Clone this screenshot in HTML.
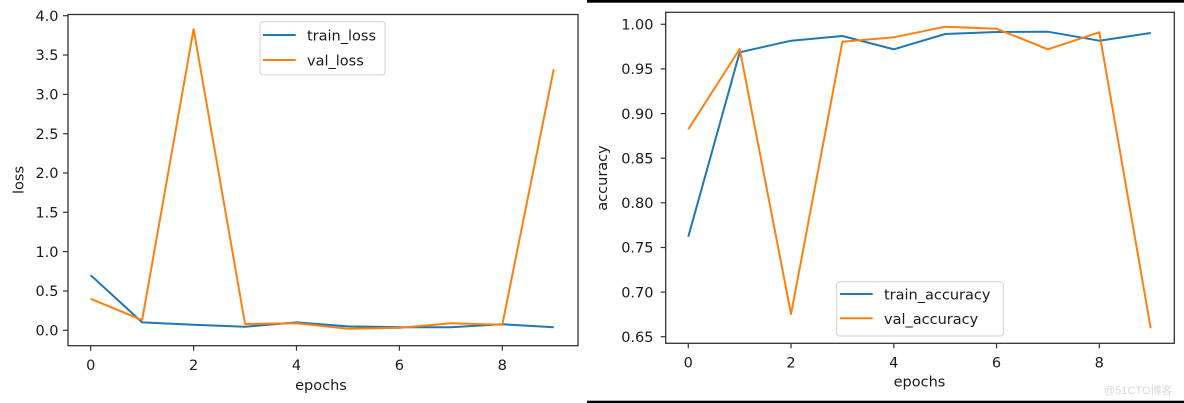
<!DOCTYPE html>
<html>
<head>
<meta charset="utf-8">
<style>
  html, body { margin: 0; padding: 0; background: #fff; }
  svg { display: block; }
  text { font-family: "DejaVu Sans", "Liberation Sans", sans-serif; fill: #1a1a1a; }
</style>
</head>
<body>
<svg width="1184" height="403" viewBox="0 0 1184 403" xmlns="http://www.w3.org/2000/svg">
  <rect x="0" y="0" width="1184" height="403" fill="#fff"/>
  <!-- black bars right panel -->
  <rect x="587" y="0" width="597" height="2.7" fill="#000"/>
  <rect x="587" y="400.7" width="597" height="2.3" fill="#000"/>

  <!-- ================= LEFT PLOT ================= -->
  <g>
    <!-- series -->
    <polyline fill="none" stroke="#1f77b4" stroke-width="2" stroke-linejoin="round"
      points="90.7,275.2 142.15,322.4 193.6,324.8 245.05,326.7 296.5,322.4 347.95,326.4 399.4,327.2 450.85,327.2 502.3,324.3 553.75,327.2"/>
    <polyline fill="none" stroke="#ff7f0e" stroke-width="2" stroke-linejoin="round"
      points="90.7,298.8 142.15,320.1 193.6,29.1 245.05,324.0 296.5,323.2 347.95,328.7 399.4,327.9 450.85,323.2 502.3,324.8 553.75,69.2"/>

    <!-- frame -->
    <rect x="68" y="14.5" width="510" height="331.2" fill="none" stroke="#333" stroke-width="1.3"/>

    <!-- y ticks -->
    <g stroke="#333" stroke-width="1.2">
      <line x1="63" y1="330.3" x2="68" y2="330.3"/>
      <line x1="63" y1="291" x2="68" y2="291"/>
      <line x1="63" y1="251.6" x2="68" y2="251.6"/>
      <line x1="63" y1="212.3" x2="68" y2="212.3"/>
      <line x1="63" y1="173" x2="68" y2="173"/>
      <line x1="63" y1="133.7" x2="68" y2="133.7"/>
      <line x1="63" y1="94.4" x2="68" y2="94.4"/>
      <line x1="63" y1="55" x2="68" y2="55"/>
      <line x1="63" y1="15.7" x2="68" y2="15.7"/>
    </g>
    <g font-size="14.5" text-anchor="end">
      <text x="58.5" y="335.5">0.0</text>
      <text x="58.5" y="296.2">0.5</text>
      <text x="58.5" y="256.8">1.0</text>
      <text x="58.5" y="217.5">1.5</text>
      <text x="58.5" y="178.2">2.0</text>
      <text x="58.5" y="138.9">2.5</text>
      <text x="58.5" y="99.6">3.0</text>
      <text x="58.5" y="60.2">3.5</text>
      <text x="58.5" y="20.9">4.0</text>
    </g>
    <!-- x ticks -->
    <g stroke="#333" stroke-width="1.2">
      <line x1="90.7" y1="345.7" x2="90.7" y2="350.7"/>
      <line x1="193.6" y1="345.7" x2="193.6" y2="350.7"/>
      <line x1="296.5" y1="345.7" x2="296.5" y2="350.7"/>
      <line x1="399.4" y1="345.7" x2="399.4" y2="350.7"/>
      <line x1="502.3" y1="345.7" x2="502.3" y2="350.7"/>
    </g>
    <g font-size="14.5" text-anchor="middle">
      <text x="90.7" y="370">0</text>
      <text x="193.6" y="370">2</text>
      <text x="296.5" y="370">4</text>
      <text x="399.4" y="370">6</text>
      <text x="502.3" y="370">8</text>
    </g>
    <text x="321" y="390" font-size="14.5" text-anchor="middle">epochs</text>
    <text transform="translate(23.5,180) rotate(-90)" font-size="14.5" text-anchor="middle">loss</text>

    <!-- legend -->
    <rect x="260" y="21.7" width="125" height="53.3" rx="3" ry="3" fill="#fff" fill-opacity="0.85" stroke="#d0d0d0" stroke-width="1"/>
    <line x1="263" y1="35" x2="295.7" y2="35" stroke="#1f77b4" stroke-width="2"/>
    <line x1="263" y1="60" x2="295.7" y2="60" stroke="#ff7f0e" stroke-width="2"/>
    <text x="307" y="40.5" font-size="14.5">train_loss</text>
    <text x="307" y="65.5" font-size="14.5">val_loss</text>
  </g>

  <!-- ================= RIGHT PLOT ================= -->
  <g>
    <polyline fill="none" stroke="#1f77b4" stroke-width="2" stroke-linejoin="round"
      points="688.3,236.7 739.7,52.3 791.05,40.7 842.4,36 893.8,49.3 945.2,34 996.55,32 1047.9,31.7 1099.3,40.7 1150.7,33"/>
    <polyline fill="none" stroke="#ff7f0e" stroke-width="2" stroke-linejoin="round"
      points="688.3,129.3 739.7,49 791.05,314 842.4,41.7 893.8,37.3 945.2,26.7 996.55,28.7 1047.9,49.3 1099.3,32.3 1150.7,328.3"/>

    <rect x="665.7" y="12.3" width="508.6" height="331" fill="none" stroke="#333" stroke-width="1.3"/>

    <g stroke="#333" stroke-width="1.2">
      <line x1="660.7" y1="24.3" x2="665.7" y2="24.3"/>
      <line x1="660.7" y1="68.9" x2="665.7" y2="68.9"/>
      <line x1="660.7" y1="113.6" x2="665.7" y2="113.6"/>
      <line x1="660.7" y1="158.2" x2="665.7" y2="158.2"/>
      <line x1="660.7" y1="202.8" x2="665.7" y2="202.8"/>
      <line x1="660.7" y1="247.5" x2="665.7" y2="247.5"/>
      <line x1="660.7" y1="292.1" x2="665.7" y2="292.1"/>
      <line x1="660.7" y1="336.7" x2="665.7" y2="336.7"/>
    </g>
    <g font-size="14.5" text-anchor="end">
      <text x="653.5" y="29.5">1.00</text>
      <text x="653.5" y="74.1">0.95</text>
      <text x="653.5" y="118.8">0.90</text>
      <text x="653.5" y="163.4">0.85</text>
      <text x="653.5" y="208">0.80</text>
      <text x="653.5" y="252.7">0.75</text>
      <text x="653.5" y="297.3">0.70</text>
      <text x="653.5" y="341.9">0.65</text>
    </g>
    <g stroke="#333" stroke-width="1.2">
      <line x1="688.3" y1="343.3" x2="688.3" y2="348.3"/>
      <line x1="791.05" y1="343.3" x2="791.05" y2="348.3"/>
      <line x1="893.8" y1="343.3" x2="893.8" y2="348.3"/>
      <line x1="996.55" y1="343.3" x2="996.55" y2="348.3"/>
      <line x1="1099.3" y1="343.3" x2="1099.3" y2="348.3"/>
    </g>
    <g font-size="14.5" text-anchor="middle">
      <text x="688.3" y="367.7">0</text>
      <text x="791.05" y="367.7">2</text>
      <text x="893.8" y="367.7">4</text>
      <text x="996.55" y="367.7">6</text>
      <text x="1099.3" y="367.7">8</text>
    </g>
    <text x="919.5" y="386.7" font-size="14.5" text-anchor="middle">epochs</text>
    <text transform="translate(607,178) rotate(-90)" font-size="14.5" text-anchor="middle">accuracy</text>

    <!-- legend -->
    <rect x="836.7" y="281.7" width="166.6" height="54.3" rx="3" ry="3" fill="#fff" fill-opacity="0.85" stroke="#d0d0d0" stroke-width="1"/>
    <line x1="840" y1="294" x2="872.7" y2="294" stroke="#1f77b4" stroke-width="2"/>
    <line x1="840" y1="318.3" x2="872.7" y2="318.3" stroke="#ff7f0e" stroke-width="2"/>
    <text x="884" y="299.5" font-size="14.5">train_accuracy</text>
    <text x="884" y="324" font-size="14.5">val_accuracy</text>
  </g>

  <!-- watermark -->
  <text x="1104" y="394" font-size="11" style="fill:#d8d8d8; font-family: 'Liberation Sans', 'Noto Sans CJK SC', sans-serif;">@51CTO博客</text>
</svg>
</body>
</html>
